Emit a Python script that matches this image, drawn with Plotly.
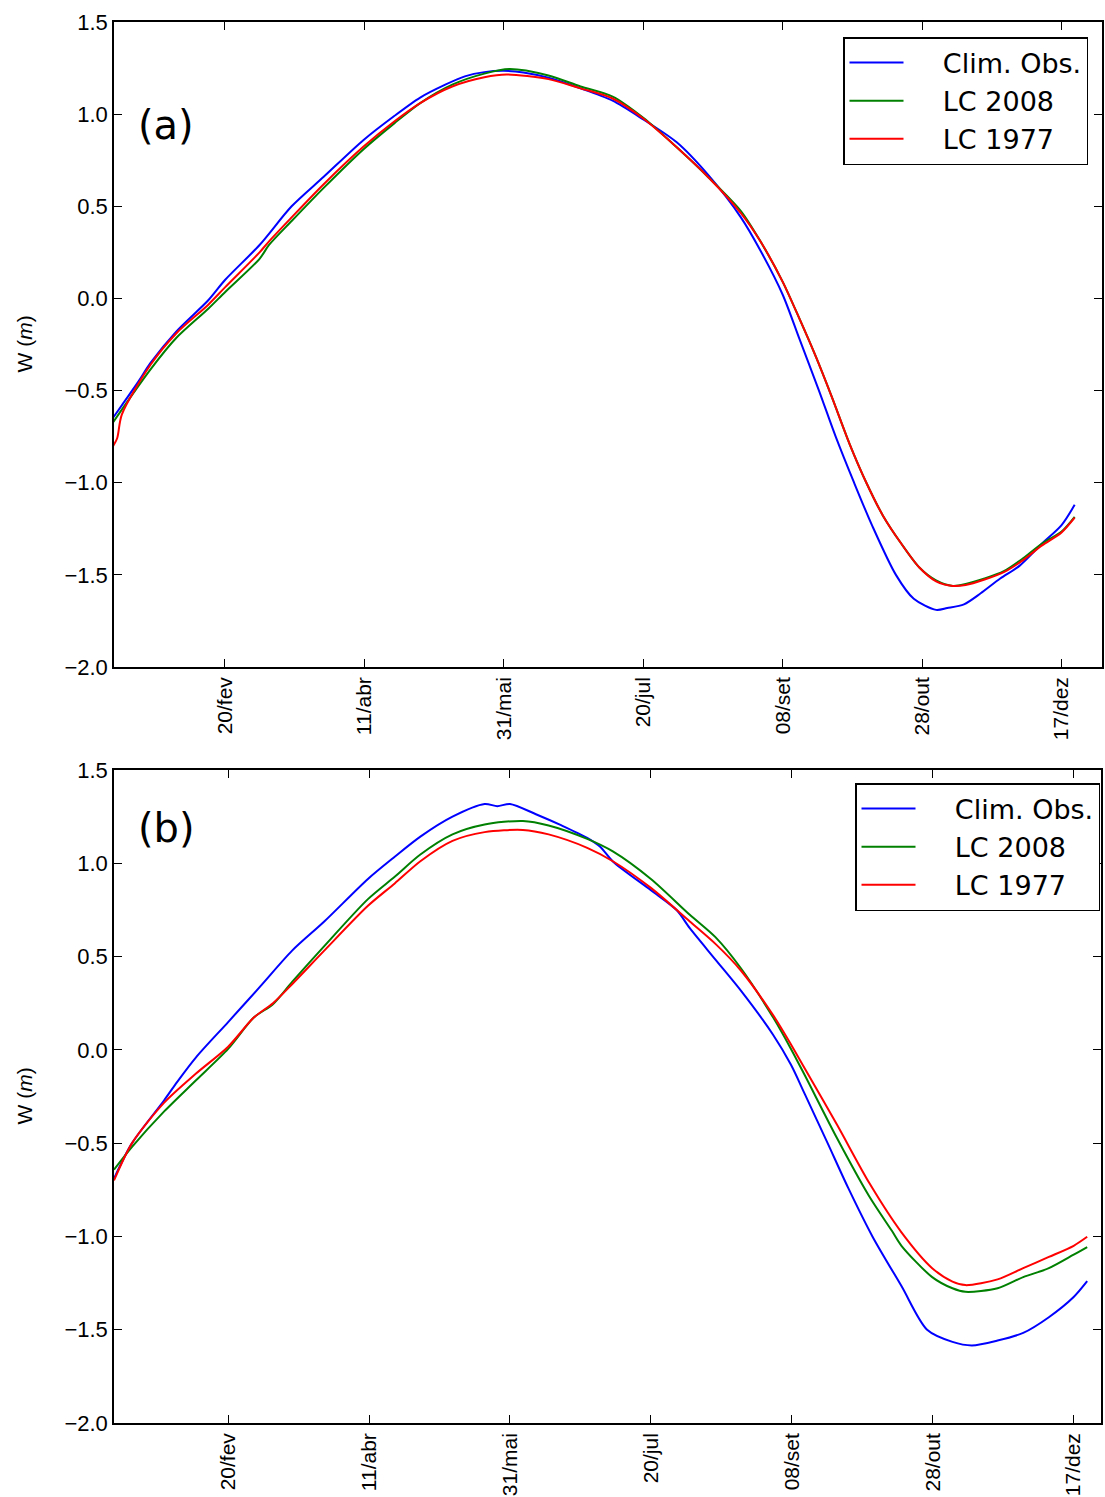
import plotly.graph_objects as go

# ---------------- data (day of year, W in metres) ----------------
tick_days = [51, 101, 151, 201, 251, 301, 351]
tick_labels = ["20/fev", "11/abr", "31/mai", "20/jul", "08/set", "28/out", "17/dez"]
y_ticks = [-2.0, -1.5, -1.0, -0.5, 0.0, 0.5, 1.0, 1.5]
y_tick_labels = ["\u22122.0", "\u22121.5", "\u22121.0", "\u22120.5", "0.0", "0.5", "1.0", "1.5"]
series_names = ["Clim. Obs.", "LC 2008", "LC 1977"]
series_colors = ["#0000ff", "#008000", "#ff0000"]

# Panel (a)
a_obs_x = [10.5, 14, 20, 24.3, 33.5, 45, 51, 63.4, 74.9, 86.4, 100.7, 111.7, 121, 130, 137, 144, 151, 158, 167,
           178.5, 190, 201, 213, 224.5, 236, 243, 251, 257, 264, 270, 276.6, 283, 291.6, 298, 306, 310, 316,
           322, 329, 336, 344, 351, 355.7]
a_obs_y = [-0.655, -0.58, -0.45, -0.35, -0.18, -0.01, 0.10, 0.29, 0.50, 0.66, 0.86, 0.99, 1.09, 1.16, 1.205,
           1.228, 1.235, 1.226, 1.197, 1.14, 1.073, 0.971, 0.847, 0.666, 0.44, 0.26, 0.02, -0.22, -0.50, -0.75,
           -1.0, -1.23, -1.50, -1.63, -1.69, -1.68, -1.66, -1.60, -1.52, -1.45, -1.33, -1.23, -1.12]

a_2008_x = [10.5, 24.3, 33.5, 45, 51, 63.4, 66.8, 74.9, 86.4, 100.7, 111.7, 121, 132.5, 144, 153, 167, 178.5,
            190, 201, 213, 224.5, 236, 243, 251, 257, 263, 268.5, 275, 281, 287, 293.5, 300, 306, 312, 316.6,
            323.4, 330.3, 337.2, 344, 351, 355.7]
a_2008_y = [-0.68, -0.385, -0.215, -0.056, 0.034, 0.215, 0.29, 0.42, 0.60, 0.81, 0.95, 1.06, 1.16, 1.22, 1.245,
            1.21, 1.15, 1.095, 0.98, 0.82, 0.655, 0.474, 0.31, 0.09, -0.11, -0.32, -0.53, -0.79, -1.0, -1.18,
            -1.33, -1.46, -1.53, -1.56, -1.55, -1.52, -1.48, -1.41, -1.33, -1.265, -1.185]

a_1977_x = [10.5, 12.3, 14, 24.3, 33.5, 45, 51, 63.4, 66.8, 74.9, 86.4, 100.7, 111.7, 121, 132.5, 144, 152,
            167, 178.5, 190, 201, 213, 224.5, 236, 243, 251, 257, 263, 268.5, 275, 281, 287, 293.5, 300, 306,
            312, 316.6, 323.4, 330.3, 337.2, 344, 351, 355.7]
a_1977_y = [-0.81, -0.76, -0.63, -0.36, -0.19, -0.034, 0.06, 0.25, 0.31, 0.44, 0.62, 0.824, 0.96, 1.06, 1.15,
            1.20, 1.215, 1.19, 1.14, 1.085, 0.976, 0.82, 0.655, 0.463, 0.31, 0.09, -0.11, -0.32, -0.53, -0.79,
            -1.0, -1.18, -1.33, -1.46, -1.535, -1.56, -1.555, -1.525, -1.485, -1.42, -1.34, -1.27, -1.19]

# Panel (b)
b_obs_x = [10.5, 16.9, 28.3, 33, 39.6, 51, 62.4, 73.7, 85.1, 100.6, 110.1, 119.2, 130.6, 142, 146.5, 151, 160.2,
           169.3, 178.4, 183, 187.5, 201, 210.2, 214.8, 223.9, 233, 244.4, 250.7, 255.7, 263.7, 271, 279.6,
           289.9, 299, 308, 314.9, 324, 333.1, 342.2, 351, 355.8]
b_obs_y = [-0.69, -0.50, -0.27, -0.17, -0.04, 0.149, 0.34, 0.532, 0.688, 0.916, 1.035, 1.143, 1.25, 1.318, 1.306,
           1.318, 1.263, 1.203, 1.136, 1.088, 1.01, 0.856, 0.748, 0.652, 0.484, 0.316, 0.08, -0.08, -0.24,
           -0.50, -0.74, -1.0, -1.266, -1.50, -1.565, -1.584, -1.558, -1.517, -1.433, -1.325, -1.24]

b_2008_x = [10.5, 16.9, 28.3, 39.6, 51, 60.1, 66.9, 73.7, 85.1, 100.6, 110.1, 119.2, 130.6, 142, 155.6, 164.7,
            178.4, 187.5, 201, 214.8, 223.9, 233, 244.4, 250.7, 255.7, 267.1, 278.5, 286.5, 289.9, 300.8, 308,
            312.6, 324, 333.1, 342.2, 351, 355.8]
b_2008_y = [-0.642, -0.52, -0.33, -0.163, 0.005, 0.173, 0.245, 0.364, 0.556, 0.808, 0.928, 1.047, 1.155, 1.208,
            1.227, 1.203, 1.131, 1.064, 0.916, 0.724, 0.604, 0.436, 0.173, 0.005, -0.139, -0.475, -0.786, -0.97,
            -1.05, -1.218, -1.278, -1.297, -1.278, -1.218, -1.17, -1.098, -1.057]

b_1977_x = [10.5, 16.9, 28.3, 39.6, 51, 60.1, 66.9, 73.7, 85.1, 100.6, 110.1, 119.2, 130.6, 142, 155.6, 164.7,
            178.4, 187.5, 201, 214.8, 223.9, 233, 244.4, 250.7, 255.7, 267.1, 278.5, 289.9, 300.8, 308, 312.6,
            324, 333.1, 342.2, 351, 355.8]
b_1977_y = [-0.70, -0.50, -0.283, -0.127, 0.017, 0.173, 0.25, 0.352, 0.532, 0.772, 0.892, 1.011, 1.12, 1.167,
            1.179, 1.155, 1.083, 1.011, 0.868, 0.688, 0.568, 0.424, 0.185, 0.029, -0.103, -0.403, -0.714, -0.978,
            -1.17, -1.242, -1.261, -1.23, -1.17, -1.11, -1.05, -1.002]

# ---------------- figure ----------------
W, H = 1105, 1497
fig = go.Figure()

panels = [
    dict(xa="x", ya="y", legend="legend",
         data=[(a_obs_x, a_obs_y), (a_2008_x, a_2008_y), (a_1977_x, a_1977_y)]),
    dict(xa="x2", ya="y2", legend="legend2",
         data=[(b_obs_x, b_obs_y), (b_2008_x, b_2008_y), (b_1977_x, b_1977_y)]),
]
for p in panels:
    for (xs, ys), name, col in zip(p["data"], series_names, series_colors):
        fig.add_trace(go.Scatter(x=xs, y=ys, mode="lines", name="    " + name,
                                 line=dict(color=col, width=2, shape="spline", smoothing=0.8),
                                 xaxis=p["xa"], yaxis=p["ya"], legend=p["legend"]))

tick_font = dict(family="Liberation Sans, Arial, sans-serif", size=22, color="black")
xtick_font = dict(family="Liberation Sans, Arial, sans-serif", size=21, color="black")
axis_common = dict(showline=True, linecolor="black", linewidth=1.5, mirror="ticks",
                   ticks="inside", ticklen=8, tickwidth=1.2, tickcolor="black",
                   showgrid=False, zeroline=False, automargin=False)

x_dom = [114 / W, 1102 / W]
x_dom_b = [114 / W, 1101 / W]
ya_dom = [1 - 667 / H, 1 - 22 / H]
yb_dom = [1 - 1423 / H, 1 - 770 / H]

legend_font = dict(family="DejaVu Sans, sans-serif", size=27, color="black")
fig.update_layout(
    width=W, height=H,
    margin=dict(l=0, r=0, t=0, b=0, pad=0),
    paper_bgcolor="white", plot_bgcolor="white",
    xaxis=dict(domain=x_dom, range=[11.2, 365.5], anchor="y", tickfont=xtick_font,
               tickvals=tick_days, ticktext=tick_labels, tickangle=-90, **axis_common),
    yaxis=dict(domain=ya_dom, range=[-2.0, 1.5], anchor="x", tickfont=tick_font,
               tickvals=y_ticks, ticktext=y_tick_labels, **axis_common),
    xaxis2=dict(domain=x_dom_b, range=[10.5, 360.7], anchor="y2", tickfont=xtick_font,
                tickvals=tick_days, ticktext=tick_labels, tickangle=-90, **axis_common),
    yaxis2=dict(domain=yb_dom, range=[-2.0, 1.5], anchor="x2", tickfont=tick_font,
                tickvals=y_ticks, ticktext=y_tick_labels, **axis_common),
    legend=dict(x=1088 / W, y=1 - 37 / H, xanchor="right", yanchor="top",
                bgcolor="white", bordercolor="black", borderwidth=1.5,
                font=legend_font, itemwidth=54),
    legend2=dict(x=1100 / W, y=1 - 783 / H, xanchor="right", yanchor="top",
                 bgcolor="white", bordercolor="black", borderwidth=1.5,
                 font=legend_font, itemwidth=54),
    showlegend=True,
)

annots = [
    dict(text="(a)", x=166 / W, y=1 - 125 / H),
    dict(text="(b)", x=166 / W, y=1 - 828 / H),
]
for a in annots:
    fig.add_annotation(xref="paper", yref="paper", x=a["x"], y=a["y"], text=a["text"],
                       showarrow=False, xanchor="center", yanchor="middle",
                       font=dict(family="DejaVu Sans, sans-serif", size=40, color="black"))

for yc in [(22 + 667) / 2, (770 + 1423) / 2]:
    fig.add_annotation(xref="paper", yref="paper", x=24 / W, y=1 - yc / H,
                       text="W (<i>m</i>)", textangle=-90, showarrow=False,
                       xanchor="center", yanchor="middle",
                       font=dict(family="Liberation Sans, Arial, sans-serif", size=21, color="black"))

fig.write_html("out.html", config={"displayModeBar": False},
               post_script="document.body.style.margin='0';document.body.style.overflow='hidden';")
